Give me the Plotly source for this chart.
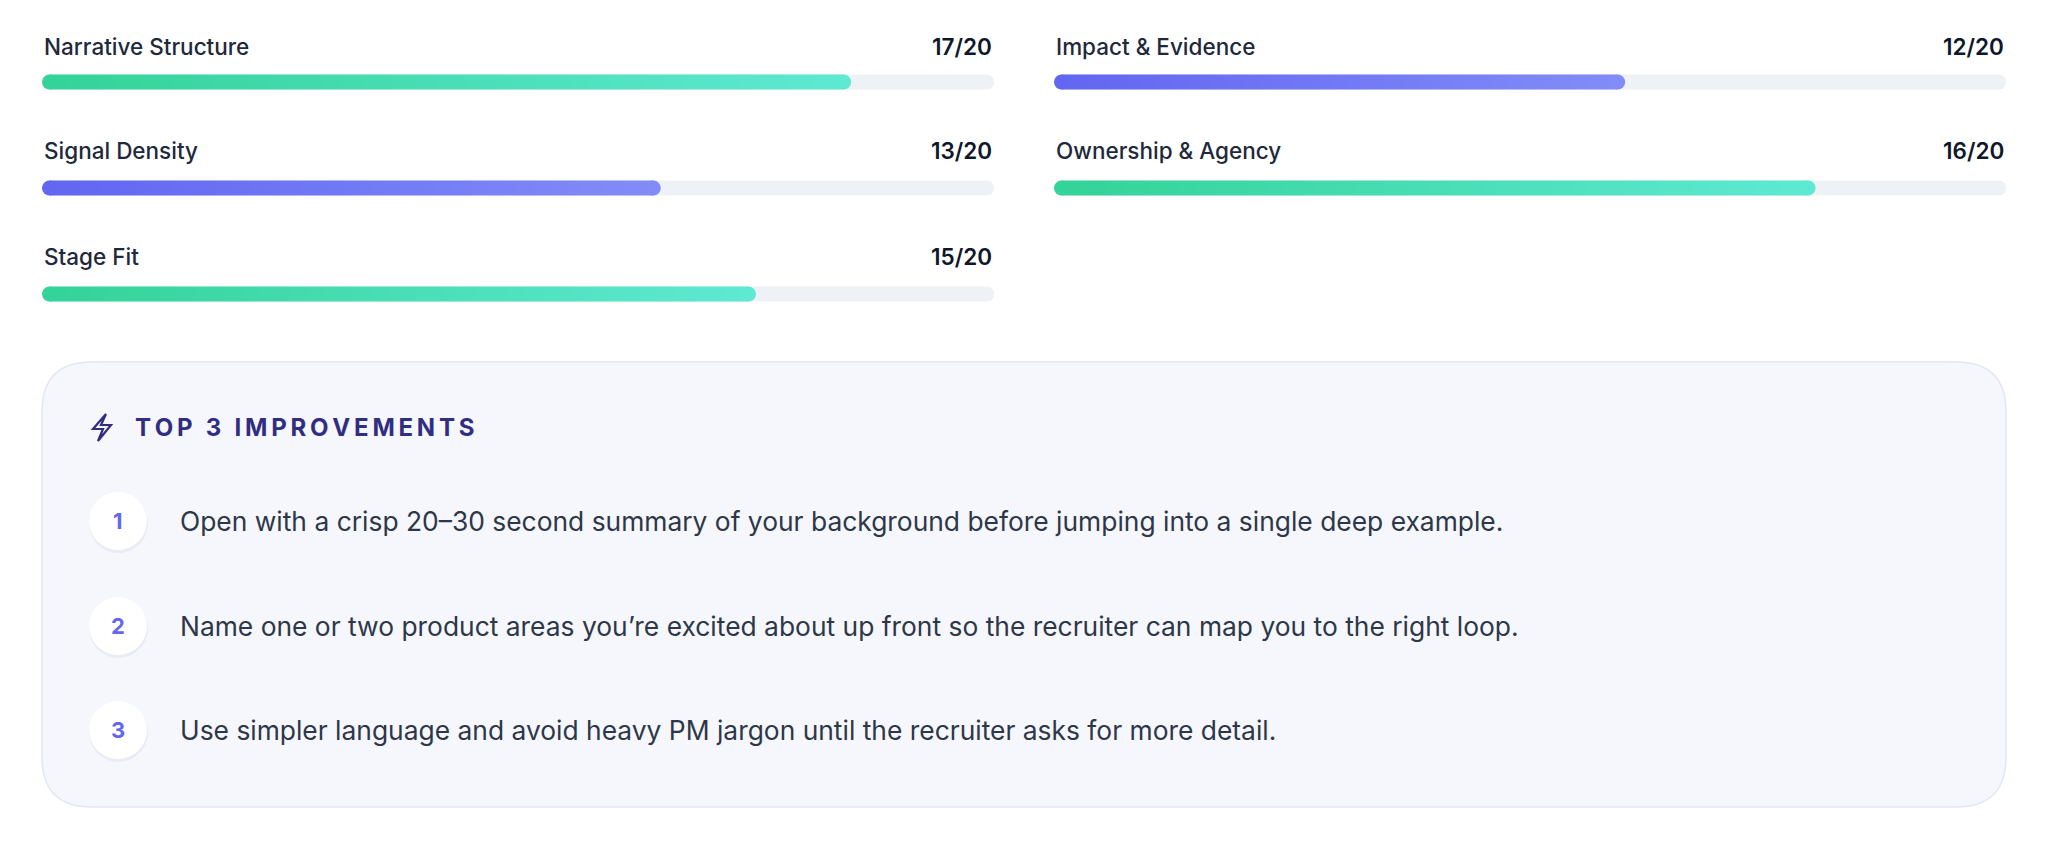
import numpy as np
import plotly.graph_objects as go

labels = ["Narrative Structure", "Impact & Evidence", "Signal Density", "Ownership & Agency", "Stage Fit"]
scores = [17, 12, 13, 16, 15]
max_score = 20
palettes = ["green", "blue", "blue", "green", "green"]
improvements = [
    "Open with a crisp 20\u201330 second summary of your background before jumping into a single deep example.",
    "Name one or two product areas you\u2019re excited about up front so the recruiter can map you to the right loop.",
    "Use simpler language and avoid heavy PM jargon until the recruiter asks for more detail.",
]
title = "TOP 3 IMPROVEMENTS"

W, H = 2048, 856
FONT = "Inter"
COL = {"green": ("#34d399", "#5ee9d2"), "blue": ("#6366f1", "#818cf8")}
DX, DY = -9, -8
colx = [(43 + DX, 995 + DX), (1055 + DX, 2007 + DX)]
row_label_y = [46 + DY, 150 + DY, 256 + DY]
row_bar_y = [82 + DY, 188 + DY, 294 + DY]
BH = 15

fig = go.Figure()
shapes, annots = [], []

def rpath(x0, y0, x1, y1, r):
    return (f"M{x0+r},{y0} L{x1-r},{y0} Q{x1},{y0} {x1},{y0+r} L{x1},{y1-r} Q{x1},{y1} {x1-r},{y1} "
            f"L{x0+r},{y1} Q{x0},{y1} {x0},{y1-r} L{x0},{y0+r} Q{x0},{y0} {x0+r},{y0} Z")

for i, (lab, sc, pal) in enumerate(zip(labels, scores, palettes)):
    c, r = i % 2, i // 2
    x0, x1 = colx[c]
    yc = row_bar_y[r]
    ax = "x2" if c == 0 else "x3"
    shapes.append(dict(type="path", xref="x", yref="y", path=rpath(x0, yc - BH/2, x1, yc + BH/2, BH/2),
                       fillcolor="#eef2f7", line_width=0, layer="below"))
    rad = (BH/2) / (x1 - x0) * max_score
    edges = np.linspace(rad, sc - rad, 161)
    mids = (edges[:-1] + edges[1:]) / 2
    c0, c1 = COL[pal]
    fig.add_trace(go.Heatmap(x=edges, y=[yc - BH/2, yc + BH/2], z=[mids], xaxis=ax, yaxis="y",
                             colorscale=[[0, c0], [1, c1]], zmin=rad, zmax=sc - rad,
                             showscale=False, hoverinfo="skip"))
    fig.add_trace(go.Scatter(x=[rad, sc - rad], y=[yc, yc], xaxis=ax, yaxis="y", mode="markers",
                             marker=dict(size=BH, color=[c0, c1], line_width=0), hoverinfo="skip", showlegend=False))
    annots.append(dict(x=x0, y=row_label_y[r], xref="x", yref="y", text=lab, showarrow=False,
                       xanchor="left", yanchor="middle",
                       font=dict(family=FONT, size=22.5, color="#1e293b", weight=500)))
    annots.append(dict(x=x1, y=row_label_y[r], xref="x", yref="y", text=f"{sc}/{max_score}", showarrow=False,
                       xanchor="right", yanchor="middle",
                       font=dict(family=FONT, size=22.5, color="#0f172a", weight=600)))

shapes.append(dict(type="path", xref="x", yref="y", path=rpath(43 + DX, 362 + DY, 2007 + DX, 807 + DY, 50),
                   fillcolor="#f6f7fd", line=dict(color="#e3e7f5", width=1.5), layer="below"))
ix, iy = 103 + DX, 427 + DY
bolt = f"M{ix+4},{iy-13} L{ix-9},{iy+2} L{ix+1},{iy+2} L{ix-4},{iy+14} L{ix+9},{iy-2} L{ix-1},{iy-2} Z"
shapes.append(dict(type="path", xref="x", yref="y", path=bolt, line=dict(color="#312e81", width=2.2),
                   fillcolor="rgba(0,0,0,0)"))
spaced = "\u2009".join(title)
annots.append(dict(x=134 + DX, y=427 + DY, xref="x", yref="y", text=f"<b>{spaced}</b>",
                   showarrow=False, xanchor="left", yanchor="middle",
                   font=dict(family=FONT, size=24, color="#312e81")))
item_y = [521 + DY, 626 + DY, 730 + DY]
cx = 119 + DX
for k, (t, y) in enumerate(zip(improvements, item_y)):
    shapes.append(dict(type="circle", xref="x", yref="y", x0=cx-29, x1=cx+30, y0=y-27, y1=y+32,
                       fillcolor="#e9ecf5", line_width=0, layer="below"))
    shapes.append(dict(type="circle", xref="x", yref="y", x0=cx-29, x1=cx+29, y0=y-29, y1=y+29,
                       fillcolor="#ffffff", line_width=0))
    annots.append(dict(x=cx, y=y, xref="x", yref="y", text=f"<b>{k+1}</b>", showarrow=False,
                       font=dict(family=FONT, size=22, color="#6366f1")))
    annots.append(dict(x=179 + DX, y=y, xref="x", yref="y", text=t, showarrow=False, xanchor="left",
                       yanchor="middle", font=dict(family=FONT, size=26.4, color="#2d3748")))

hid = dict(visible=False, showgrid=False, zeroline=False, fixedrange=True)
fig.update_layout(
    width=W, height=H, margin=dict(l=0, r=0, t=0, b=0),
    paper_bgcolor="white", plot_bgcolor="rgba(0,0,0,0)", showlegend=False,
    xaxis=dict(domain=[0, 1], range=[0, W], **hid),
    xaxis2=dict(domain=[colx[0][0]/W, colx[0][1]/W], range=[0, max_score], anchor="y", **hid),
    xaxis3=dict(domain=[colx[1][0]/W, colx[1][1]/W], range=[0, max_score], anchor="y", **hid),
    yaxis=dict(domain=[0, 1], range=[H, 0], **hid),
    shapes=shapes, annotations=annots,
)
fig.write_html("out.html", config={"displayModeBar": False})
